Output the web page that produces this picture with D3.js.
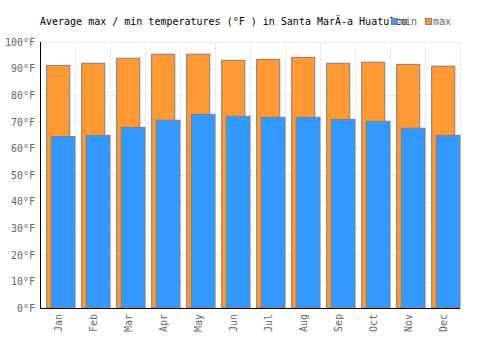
<!DOCTYPE html>
<html lang="en">
<head>
    <meta charset="UTF-8">
    <title>Average temperatures</title>
    <script src="https://unpkg.com/d3@7.8.0/dist/d3.min.js"></script>
    <style>
        body { margin: 0px; background: #fff; }
        text { font-family: "DejaVu Sans Mono", monospace; }
    </style>
</head>
<body>
    <script>
        const months = ['Jan', 'Feb', 'Mar', 'Apr', 'May', 'Jun', 'Jul', 'Aug', 'Sep', 'Oct', 'Nov', 'Dec'];
        const maxTemps = [91.2, 92.0, 93.9, 95.4, 95.4, 93.1, 93.5, 94.2, 92.0, 92.4, 91.6, 90.9];
        const minTemps = [64.5, 64.9, 67.9, 70.6, 72.8, 72.1, 71.7, 71.7, 70.9, 70.2, 67.6, 64.9];
        const yTicks = [0, 10, 20, 30, 40, 50, 60, 70, 80, 90, 100];

        const width = 500, height = 350;
        const margin = { top: 42, right: 40, bottom: 42, left: 40 };
        const innerwidth = width - margin.left - margin.right;
        const innerheight = height - margin.top - margin.bottom;

        const svg = d3.select('body').append('svg')
            .attr('width', width)
            .attr('height', height);

        const g = svg.append('g')
            .attr('transform', `translate(${margin.left}, ${margin.top})`);

        const xScale = d3.scaleBand().domain(months).range([0, innerwidth]);
        const yScale = d3.scaleLinear().domain([0, 100]).range([innerheight, 0]);
        const bw = xScale.bandwidth();

        // grid
        g.selectAll('.hgrid').data(yTicks).enter().append('line')
            .attr('x1', 0).attr('x2', innerwidth)
            .attr('y1', d => yScale(d) + 0.5).attr('y2', d => yScale(d) + 0.5)
            .attr('stroke', '#eeeeee');
        g.selectAll('.vgrid').data(months).enter().append('line')
            .attr('x1', d => xScale(d) + bw + 0.5).attr('x2', d => xScale(d) + bw + 0.5)
            .attr('y1', 0).attr('y2', innerheight)
            .attr('stroke', '#eeeeee');

        // bars
        g.selectAll('.maxbar').data(maxTemps).enter().append('rect')
            .attr('x', (d, i) => xScale(months[i]) + bw * 0.19)
            .attr('width', bw * 0.66)
            .attr('y', d => yScale(d))
            .attr('height', d => innerheight - yScale(d))
            .attr('fill', '#ff9933')
            .attr('stroke', '#808080')
            .attr('stroke-width', 1);

        g.selectAll('.minbar').data(minTemps).enter().append('rect')
            .attr('x', (d, i) => xScale(months[i]) + bw * 0.32)
            .attr('width', bw * 0.68)
            .attr('y', d => yScale(d))
            .attr('height', d => innerheight - yScale(d))
            .attr('fill', '#3399ff')
            .attr('stroke', '#808080')
            .attr('stroke-width', 1);

        // y axis
        const yAxis = d3.axisLeft(yScale).tickValues(yTicks)
            .tickSize(0).tickPadding(5)
            .tickFormat(d => d + '°F');
        const yAxisG = g.append('g').call(yAxis);
        yAxisG.select('.domain').remove();
        yAxisG.selectAll('.tick text')
            .style('font-size', '10px')
            .style('font-family', '"DejaVu Sans Mono", monospace')
            .attr('fill', '#666');

        // x axis
        const xAxis = d3.axisBottom(xScale).tickSize(0).tickPadding(0);
        const xAxisG = g.append('g')
            .attr('transform', `translate(0, ${innerheight})`)
            .call(xAxis);
        xAxisG.select('.domain').remove();
        xAxisG.selectAll('.tick text')
            .style('font-size', '10px')
            .style('font-family', '"DejaVu Sans Mono", monospace')
            .attr('fill', '#666')
            .attr('transform', 'rotate(-90)')
            .attr('text-anchor', 'end')
            .attr('x', -6)
            .attr('y', 1)
            .attr('dx', 0)
            .attr('dy', '0.35em');

        // axis lines
        g.append('line').attr('x1', 0.5).attr('x2', 0.5).attr('y1', 0).attr('y2', innerheight + 0.5)
            .attr('stroke', '#000');
        g.append('line').attr('x1', 0).attr('x2', innerwidth).attr('y1', innerheight + 0.5).attr('y2', innerheight + 0.5)
            .attr('stroke', '#000');

        // title
        svg.append('text')
            .attr('x', 40).attr('y', 25)
            .style('font-size', '10px')
            .attr('fill', '#000')
            .text('Average max / min temperatures (°F ) in Santa MarÃ-a Huatulco');

        // legend
        const legend = [{ name: 'min', color: '#3399ff', x: 391 }, { name: 'max', color: '#ff9933', x: 425 }];
        const lg = svg.selectAll('.legend').data(legend).enter().append('g')
            .attr('transform', d => `translate(${d.x}, 18)`);
        lg.append('rect')
            .attr('x', 0.5).attr('y', 0.5).attr('width', 6).attr('height', 6)
            .attr('fill', d => d.color).attr('stroke', '#808080');
        lg.append('text')
            .attr('x', 8).attr('y', 7)
            .style('font-size', '10px')
            .attr('fill', '#666')
            .text(d => d.name);
    </script>
</body>
</html>
